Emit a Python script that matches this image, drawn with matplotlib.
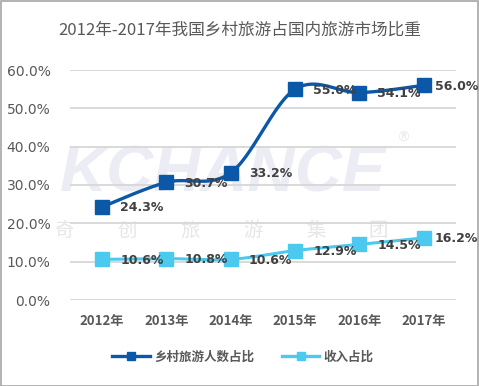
import numpy as np
import matplotlib
matplotlib.use("Agg")
import matplotlib.pyplot as plt
from matplotlib.patches import Rectangle
from matplotlib.lines import Line2D

plt.rcParams['font.family'] = ['Noto Sans CJK SC', 'DejaVu Sans']

years = ['2012年', '2013年', '2014年', '2015年', '2016年', '2017年']
rural_share = [24.3, 30.7, 33.2, 55.0, 54.1, 56.0]
income_share = [10.6, 10.8, 10.6, 12.9, 14.5, 16.2]
series_names = ['乡村旅游人数占比', '收入占比']
title = '2012年-2017年我国乡村旅游占国内旅游市场比重'

dark = '#0B57A8'
light = '#4CC9EE'


def smooth(xs, ys, n=40):
    xs = np.asarray(xs, float)
    ys = np.asarray(ys, float)
    P = np.column_stack([xs, ys])
    out = []
    for i in range(len(P) - 1):
        p0 = P[i - 1] if i > 0 else P[i]
        p1 = P[i]
        p2 = P[i + 1]
        p3 = P[i + 2] if i + 2 < len(P) else P[i + 1]
        c1 = p1 + (p2 - p0) / 6
        c2 = p2 - (p3 - p1) / 6
        t = np.linspace(0, 1, n)[:, None]
        seg = ((1 - t) ** 3) * p1 + 3 * ((1 - t) ** 2) * t * c1 + 3 * (1 - t) * t ** 2 * c2 + t ** 3 * p2
        out.append(seg if i == 0 else seg[1:])
    s = np.vstack(out)
    return s[:, 0], s[:, 1]


fig = plt.figure(figsize=(4.79, 3.86), dpi=100)
fig.patch.set_facecolor('white')
fig.add_artist(Rectangle((0.5 / 479, 0.5 / 386), 1 - 1.5 / 479, 1 - 1.5 / 386,
                         transform=fig.transFigure, fill=False, edgecolor='#A6A6A6', lw=1.2))

# watermark (behind the axes)
fig.text(60 / 479, 1 - 174 / 386, 'KCHANCE', fontsize=47, fontweight='bold', fontstyle='italic',
         family=['Liberation Sans'], color='#ECECF5', va='center', ha='left', zorder=0)
fig.text(403 / 479, 1 - 138 / 386, '®', fontsize=10, color='#E8E8F0', ha='center', va='center', zorder=0,
         family=['DejaVu Sans'])
for i, ch in enumerate('奇创旅游集团'):
    fig.text((65 + i * 62.7) / 479, 1 - 231 / 386, ch, fontsize=14, color='#E6E6E6',
             ha='center', va='center', zorder=0)

ax = fig.add_axes([70 / 479, (386 - 300) / 386, 386 / 479, 230 / 386])
ax.set_zorder(1)
ax.patch.set_alpha(0)
ax.set_xlim(-0.5, 5.5)
ax.set_ylim(0, 60)
ax.set_yticks(np.arange(0, 61, 10))
ax.set_yticklabels([f'{v:.1f}%' for v in np.arange(0, 61, 10)], color='#595959', fontsize=10,
                   family=['DejaVu Sans'])
ax.set_xticks(range(len(years)))
ax.set_xticklabels(years, fontsize=9.5, fontweight='bold', color='#595959')
ax.tick_params(length=0)
ax.tick_params(axis='y', pad=14)
ax.tick_params(axis='x', pad=10)
for s in ax.spines.values():
    s.set_visible(False)
ax.grid(axis='y', color='#D9D9D9', lw=1.4)
ax.set_axisbelow(True)

x = np.arange(len(years))
last = len(years) - 1

sx, sy = smooth(x, rural_share)
ax.plot(sx, sy, color=dark, lw=2.4, zorder=3)
ax.plot(x, rural_share, ls='none', marker='s', ms=10, color=dark, zorder=4)
sx2, sy2 = smooth(x, income_share)
ax.plot(sx2, sy2, color=light, lw=2.2, zorder=3)
ax.plot(x, income_share, ls='none', marker='s', ms=10, color=light, zorder=4)

for vals in (rural_share, income_share):
    for xi, v in zip(x, vals):
        dx = 11 if xi == last else 18
        ax.annotate(f'{v:.1f}%', (xi, v), xytext=(dx, -1), textcoords='offset pixels',
                    ha='left', va='center', fontsize=9, fontweight='bold', color='#404040', zorder=5,
                    family=['DejaVu Sans'])

handles = [Line2D([], [], color=dark, lw=2.4, marker='s', ms=6),
           Line2D([], [], color=light, lw=2.4, marker='s', ms=6)]
leg = fig.legend(handles, series_names, loc='center', bbox_to_anchor=(243 / 479, 1 - 357 / 386),
                 ncol=2, frameon=False, handlelength=3.0, columnspacing=2.2, handletextpad=0.35,
                 prop={'size': 9, 'weight': 'bold'})
for t in leg.get_texts():
    t.set_color('#595959')

fig.text(240 / 479, 1 - 30 / 386, title, fontsize=12, color='#595959', ha='center', va='center')

fig.savefig('out.png', dpi=100, facecolor='white')
